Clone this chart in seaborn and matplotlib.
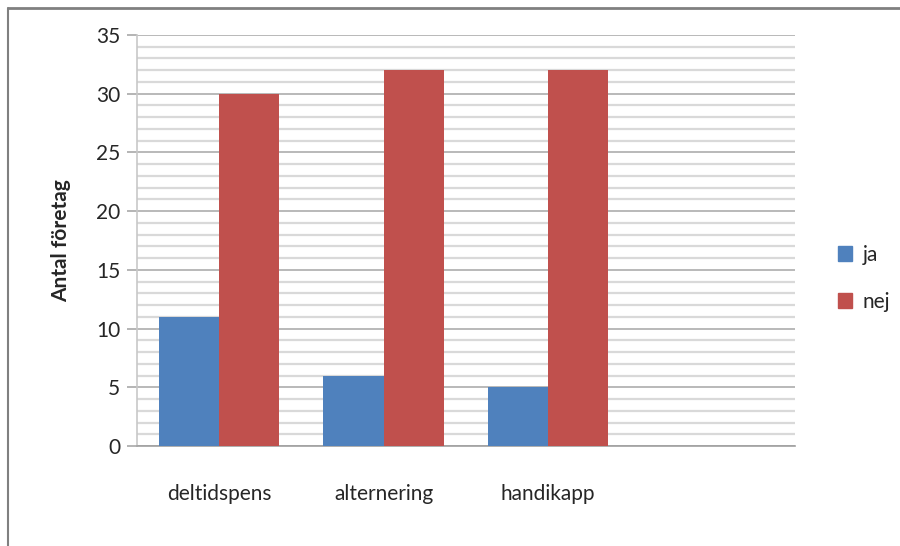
import matplotlib
matplotlib.use("Agg")
import matplotlib.pyplot as plt
import seaborn as sns
import pandas as pd
from matplotlib.lines import Line2D
from matplotlib.patches import Patch
from matplotlib.ticker import MultipleLocator

categories = ["deltidspens", "alternering", "handikapp"]
ja_values = [11, 6, 5]
nej_values = [30, 32, 32]
series_names = ["ja", "nej"]
y_ticks = [0, 5, 10, 15, 20, 25, 30, 35]

sns.set_theme(style="white")
plt.rcParams["font.family"] = ["Lato", "DejaVu Sans"]

df = pd.DataFrame({
    "kategori": categories * 2,
    "svar": [series_names[0]] * len(categories) + [series_names[1]] * len(categories),
    "antal": ja_values + nej_values,
})

blue = "#4F81BD"
red = "#C0504D"
text_color = "#262626"

fig = plt.figure(figsize=(9, 5.46), dpi=100)
ax = fig.add_axes([0.152, 0.183, 0.731, 0.753])

order = categories + [" "]
sns.barplot(data=df, x="kategori", y="antal", hue="svar", order=order,
            hue_order=series_names, palette=[blue, red], width=0.73,
            saturation=1, linewidth=0, ax=ax, legend=False, zorder=3)

ax.set_ylim(0, 35)
ax.set_xlim(-0.5, 3.5)
ax.set_yticks(y_ticks)
ax.yaxis.set_minor_locator(MultipleLocator(1))
ax.grid(axis="y", which="major", color="#A6A6A6", linewidth=1.1, zorder=0)
ax.grid(axis="y", which="minor", color="#D9D9D9", linewidth=1.6, zorder=0)
ax.set_axisbelow(True)

for s in ["top", "right"]:
    ax.spines[s].set_visible(False)
ax.spines["left"].set_color("#C8C8C8")
ax.spines["left"].set_linewidth(1.2)
ax.spines["bottom"].set_color("#A0A0A0")
ax.spines["bottom"].set_linewidth(1.2)

ax.tick_params(axis="y", which="major", direction="out", length=7, width=1.1,
               color="#A0A0A0", labelsize=15, labelcolor=text_color, pad=5, left=True)
ax.tick_params(axis="y", which="minor", length=0)
ax.tick_params(axis="x", length=0, labelsize=15, labelcolor=text_color, pad=27)

ax.set_xlabel("")
ax.set_ylabel("Antal företag", fontsize=15, fontweight="bold", color=text_color, labelpad=18)

handles = [Patch(facecolor=blue, edgecolor=blue), Patch(facecolor=red, edgecolor=red)]
fig.legend(handles, series_names, loc="center left", bbox_to_anchor=(0.91, 0.49),
           frameon=False, fontsize=15, handlelength=0.7, handleheight=0.7,
           handletextpad=0.5, labelspacing=1.3, labelcolor=text_color)

# outer frame around the chart area
fig.add_artist(Line2D([0.009, 1.0], [0.985, 0.985], transform=fig.transFigure,
                      color="#808080", linewidth=2))
fig.add_artist(Line2D([0.009, 0.009], [0.0, 0.985], transform=fig.transFigure,
                      color="#808080", linewidth=1.5))

fig.savefig("out.png", dpi=100)
